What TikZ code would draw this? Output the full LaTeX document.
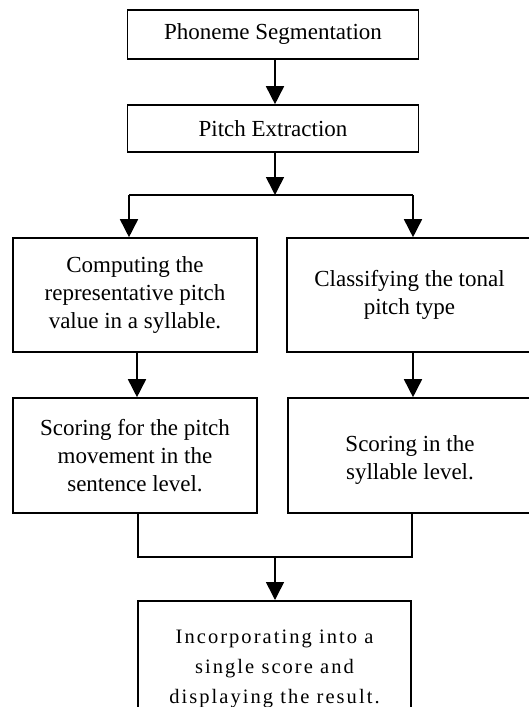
\documentclass[tikz,border=0pt]{standalone}
\usepackage{fontspec}
\setmainfont{Liberation Serif}
\newfontfamily\resultfont[LetterSpace=10]{Liberation Serif}
\usetikzlibrary{positioning,arrows.meta,calc}

\tikzset{
  stepbox/.style={draw, line width=1.6pt, align=center, inner sep=0pt,
    font=\fontsize{23}{28}\selectfont},
  flow/.style={line width=1.6pt, -{Triangle[length=18pt,width=18pt]}},
  link/.style={line width=1.6pt},
}

\begin{document}
\begin{tikzpicture}[x=1pt,y=1pt]
  \useasboundingbox (0,0) rectangle (529,-707);
  % top boxes
  \node[stepbox, minimum width=291pt, minimum height=49pt] (seg) at (273,-34.5) {Phoneme Segmentation};
  \node[stepbox, minimum width=291pt, minimum height=47pt] (pitch) at (273,-128.5) {Pitch Extraction};
  % two branches
  \node[stepbox, minimum width=244pt, minimum height=114pt] (comp) at (135,-295) {Computing the\\representative pitch\\value in a syllable.};
  \node[stepbox, minimum width=245pt, minimum height=114pt] (class) at (409.5,-295) {Classifying the tonal\\pitch type};
  \node[stepbox, minimum width=244pt, minimum height=115pt] (score1) at (135,-455.5) {Scoring for the pitch\\movement in the\\sentence level.};
  \node[stepbox, minimum width=244pt, minimum height=115pt] (score2) at (410,-455.5) {\\[-4pt]Scoring in the\\syllable level.};
  % last box, runs off the page
  \node[stepbox, minimum width=273pt, minimum height=136pt, anchor=north,
    font=\resultfont\fontsize{20.5}{30}\selectfont] (final) at (274.5,-600)
    {Incorporating into a\\single score and\\displaying the result.};

  \coordinate (split) at (275,-195);
  \coordinate (splitL) at (129,-195);
  \coordinate (splitR) at (413,-195);
  \coordinate (join) at (275,-557);
  \coordinate (joinL) at (138,-557);
  \coordinate (joinR) at (412,-557);

  \draw[flow] ([xshift=2pt]seg.south) -- ([xshift=2pt]pitch.north);
  \draw[flow] ([xshift=2pt]pitch.south) -- (split);
  \draw[link] (splitL) -- (splitR);
  \draw[flow] (splitL) -- (splitL |- comp.north);
  \draw[flow] (splitR) -- (splitR |- class.north);
  \draw[flow] ([xshift=2pt]comp.south) -- ([xshift=2pt]score1.north);
  \draw[flow] ([xshift=3.5pt]class.south) -- ([xshift=3pt]score2.north);
  \draw[link] ([xshift=3pt]score1.south) -- (joinL) -- (joinR) -- ([xshift=2pt]score2.south);
  \draw[flow] (join) -- (final.north -| join);
\end{tikzpicture}
\end{document}
